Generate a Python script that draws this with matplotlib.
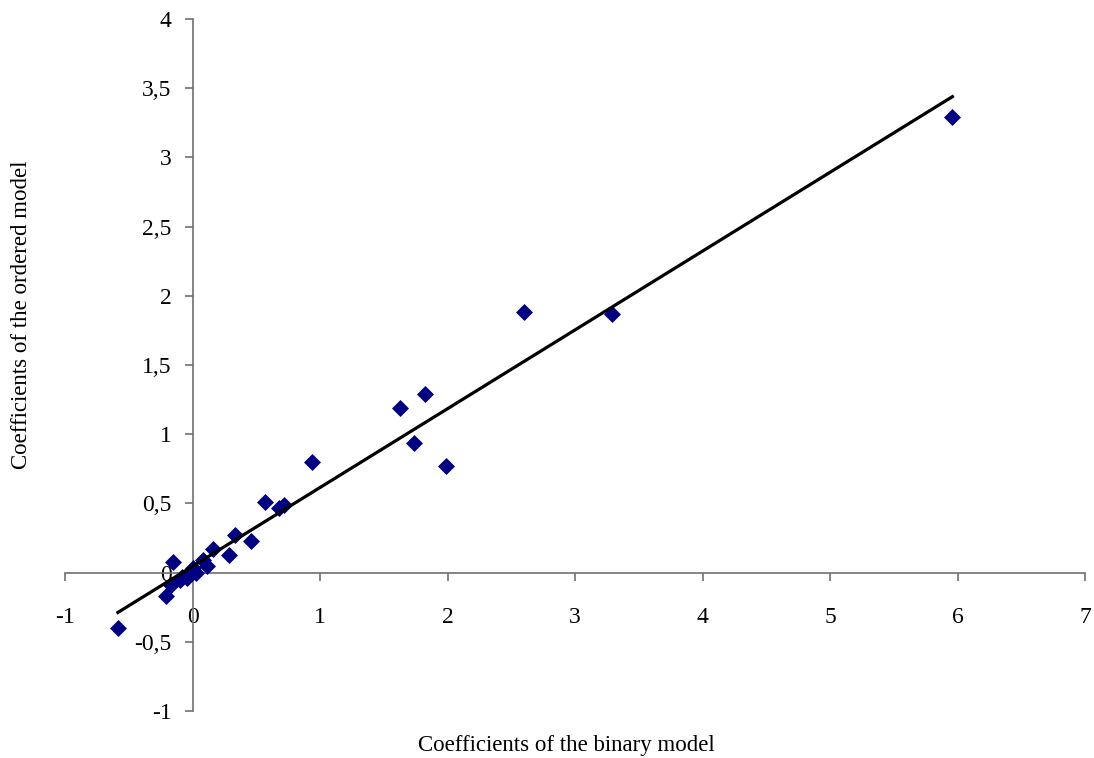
import numpy as np
import matplotlib
matplotlib.use("Agg")
import matplotlib.pyplot as plt
from matplotlib.ticker import FuncFormatter

binary = [-0.585, -0.21, -0.15, -0.17, -0.10, -0.08, -0.045, -0.02, 0.0, 0.03,
          0.08, 0.11, 0.16, 0.29, 0.33, 0.46, 0.57, 0.68, 0.72,
          0.94, 1.63, 1.82, 1.74, 1.99, 2.60, 3.29, 5.96]
ordered = [-0.40, -0.17, 0.08, -0.09, -0.05, -0.03, -0.04, 0.0, 0.03, 0.0,
           0.09, 0.05, 0.17, 0.13, 0.27, 0.23, 0.51, 0.47, 0.49,
           0.80, 1.19, 1.29, 0.94, 0.77, 1.88, 1.87, 3.29]
x_ticks = [-1, 0, 1, 2, 3, 4, 5, 6, 7]
y_ticks = [-1, -0.5, 0, 0.5, 1, 1.5, 2, 2.5, 3, 3.5, 4]

plt.rcParams['font.family'] = ['Liberation Serif', 'DejaVu Serif']

fig = plt.figure(figsize=(10.94, 7.58), dpi=100)
ax = fig.add_axes([65/1094, 1-711/758, (1085-65)/1094, (711-19)/758])

x = np.array(binary)
y = np.array(ordered)
ax.scatter(x, y, marker='D', s=75, color='#000080', zorder=3, linewidths=0)
slope, intercept = np.polyfit(x, y, 1)
xl = np.array([x.min(), x.max()])
ax.plot(xl, slope * xl + intercept, color='black', lw=2.3, zorder=4)

ax.set_xlim(-1, 7)
ax.set_ylim(-1, 4)
ax.set_xticks(x_ticks)
ax.set_yticks(y_ticks)
fmt = FuncFormatter(lambda v, p: ('%g' % v).replace('.', ','))
ax.xaxis.set_major_formatter(fmt)
ax.yaxis.set_major_formatter(fmt)

for s in ['top', 'right']:
    ax.spines[s].set_visible(False)
for s in ['left', 'bottom']:
    ax.spines[s].set_position(('data', 0))
    ax.spines[s].set_color('#707070')
    ax.spines[s].set_linewidth(1.2)

ax.tick_params(axis='x', direction='out', length=6, width=1.2, color='#707070',
               labelsize=17, pad=19)
ax.tick_params(axis='y', direction='out', length=6, width=1.2, color='#707070',
               labelsize=17, pad=9)

fig.text(566/1094, 1-745/758, 'Coefficients of the binary model', ha='center',
         va='center', fontsize=16.5)
fig.text(22/1094, 1-315/758, 'Coefficients of the ordered model', ha='center',
         va='center', rotation=90, fontsize=16.5)

fig.savefig('out.png', dpi=100)
